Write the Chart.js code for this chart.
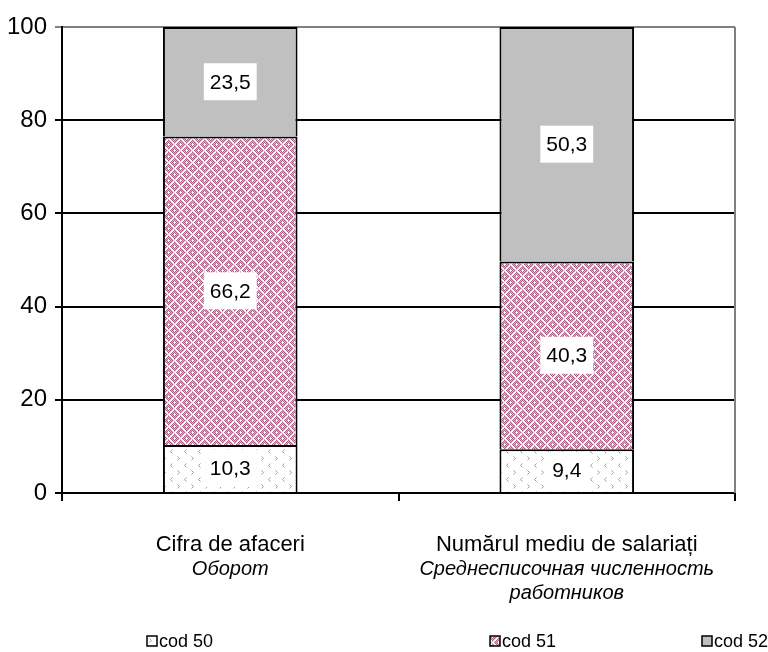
<!DOCTYPE html>
<html>
<head>
<meta charset="utf-8">
<script src="https://cdn.jsdelivr.net/npm/chart.js@4.4.1/dist/chart.umd.min.js"></script>
<style>
  html, body { margin: 0; padding: 0; background: #fff; }
  #wrap { width: 768px; height: 652px; }
</style>
</head>
<body>
<div id="wrap"><canvas id="chart" width="768" height="652"></canvas></div>
<script>
// values (percent)
const categories = [
  ['Cifra de afaceri', 'Оборот'],
  ['Numărul mediu de salariați', 'Среднесписочная численность', 'работников']
];
const cod50 = [10.3, 9.4];
const cod51 = [66.2, 40.3];
const cod52 = [23.5, 50.3];
const seriesNames = ['cod 50', 'cod 51', 'cod 52'];
const yTicks = [0, 20, 40, 60, 80, 100];

const FONT = 'Arial, "Liberation Sans", sans-serif';

// fill patterns, roughly like the Excel hatches
function makeTile(size, fn) {
  const c = document.createElement('canvas');
  c.width = size; c.height = size;
  const g = c.getContext('2d');
  g.fillStyle = '#fff';
  g.fillRect(0, 0, size, size);
  fn(g, size);
  return g.createPattern(c, 'repeat');
}

const pat50 = makeTile(14, (g) => {
  g.strokeStyle = '#8f8ff5';
  g.lineWidth = 1;
  g.beginPath();
  // "<"
  g.moveTo(4.5, 1.5); g.lineTo(2.5, 3.5); g.lineTo(4.5, 5.5);
  // ">"
  g.moveTo(9.5, 8.5); g.lineTo(11.5, 10.5); g.lineTo(9.5, 12.5);
  g.stroke();
});

// woven look: pink blocks crossed by short white diagonal strokes
const pat51 = makeTile(12, (g, size) => {
  const img = g.getImageData(0, 0, size, size);
  for (let y = 0; y < size; y++) {
    for (let x = 0; x < size; x++) {
      const bx = Math.floor(x / 6), by = Math.floor(y / 6);
      const d = (bx + by) % 2 === 0 ? (x + y) % 6 : (x - y + 24) % 6;
      const i = (y * size + x) * 4;
      if (d > 1) {
        const dark = (x + y) % 2 === 0;
        img.data[i] = dark ? 176 : 222;
        img.data[i + 1] = dark ? 96 : 178;
        img.data[i + 2] = dark ? 136 : 200;
        img.data[i + 3] = 255;
      }
    }
  }
  g.putImageData(img, 0, 0);
});

const fills = [pat50, pat51, '#c0c0c0'];

const fmt = v => v.toFixed(1).replace('.', ',');

const valueLabels = {
  id: 'valueLabels',
  afterDatasetsDraw(chart) {
    const ctx = chart.ctx;
    ctx.save();
    ctx.font = '21px ' + FONT;
    ctx.textAlign = 'center';
    ctx.textBaseline = 'middle';
    chart.data.datasets.forEach((ds, di) => {
      chart.getDatasetMeta(di).data.forEach((el, i) => {
        const txt = fmt(ds.data[i]);
        const w = ctx.measureText(txt).width + 12;
        const h = 37;
        const cx = el.x, cy = (el.y + el.base) / 2;
        ctx.fillStyle = '#fff';
        ctx.fillRect(cx - w / 2, cy - h / 2, w, h);
        ctx.fillStyle = '#000';
        ctx.fillText(txt, cx, cy + 1);
      });
    });
    ctx.restore();
  }
};

const catLabels = {
  id: 'catLabels',
  afterDraw(chart) {
    const ctx = chart.ctx;
    const xs = chart.scales.x;
    ctx.save();
    ctx.fillStyle = '#000';
    ctx.textAlign = 'center';
    ctx.textBaseline = 'middle';
    categories.forEach((lines, i) => {
      const x = xs.getPixelForValue(i);
      lines.forEach((t, j) => {
        ctx.font = (j === 0 ? '22px ' : 'italic 20px ') + FONT;
        ctx.fillText(t, x, chart.chartArea.bottom + 52 + j * 24);
      });
    });
    ctx.restore();
  }
};

const legendRow = {
  id: 'legendRow',
  afterDraw(chart) {
    const ctx = chart.ctx;
    const starts = [147, 490, 702];
    const y = 641;
    ctx.save();
    ctx.font = '18px ' + FONT;
    ctx.textBaseline = 'middle';
    seriesNames.forEach((name, i) => {
      const x = starts[i];
      ctx.fillStyle = fills[i];
      ctx.fillRect(x, y - 5, 10, 10);
      ctx.strokeStyle = '#000';
      ctx.lineWidth = 1.5;
      ctx.strokeRect(x, y - 5, 10, 10);
      ctx.fillStyle = '#000';
      ctx.fillText(name, x + 12, y + 1);
    });
    ctx.restore();
  }
};

const rightBorder = {
  id: 'rightBorder',
  afterDraw(chart) {
    const a = chart.chartArea;
    const ctx = chart.ctx;
    ctx.save();
    ctx.strokeStyle = '#808080';
    ctx.lineWidth = 2;
    ctx.beginPath();
    ctx.moveTo(a.right, a.top);
    ctx.lineTo(a.right, a.bottom);
    ctx.stroke();
    ctx.restore();
  }
};

const mk = (label, data, i) => ({
  label,
  data,
  backgroundColor: fills[i],
  borderColor: '#000',
  borderWidth: 2,
  borderSkipped: 'start',
  categoryPercentage: 1,
  barPercentage: 0.4
});

new Chart(document.getElementById('chart'), {
  type: 'bar',
  data: {
    labels: categories.map(c => c[0]),
    datasets: [mk(seriesNames[0], cod50, 0), mk(seriesNames[1], cod51, 1), mk(seriesNames[2], cod52, 2)]
  },
  options: {
    responsive: false,
    animation: false,
    layout: { padding: { top: 27, right: 33, left: 0, bottom: 0 } },
    plugins: {
      legend: { display: false },
      tooltip: { enabled: false }
    },
    scales: {
      x: {
        stacked: true,
        grid: { display: true, drawOnChartArea: false, offset: true, color: '#000', lineWidth: 2, tickLength: 8 },
        border: { display: true, color: '#000', width: 2 },
        ticks: { display: false },
        afterFit: s => { s.height = 159; }
      },
      y: {
        stacked: true,
        min: 0,
        max: 100,
        afterBuildTicks: s => { s.ticks = yTicks.map(v => ({ value: v })); },
        grid: {
          color: c => (c.tick && c.tick.value === 100 ? '#808080' : '#000'),
          lineWidth: 2,
          tickLength: 7
        },
        border: { display: true, color: '#000', width: 2 },
        ticks: { color: '#000', font: { size: 24, family: FONT }, padding: 8 },
        afterFit: s => { s.width = 62; }
      }
    }
  },
  plugins: [valueLabels, catLabels, legendRow, rightBorder]
});
</script>
</body>
</html>
